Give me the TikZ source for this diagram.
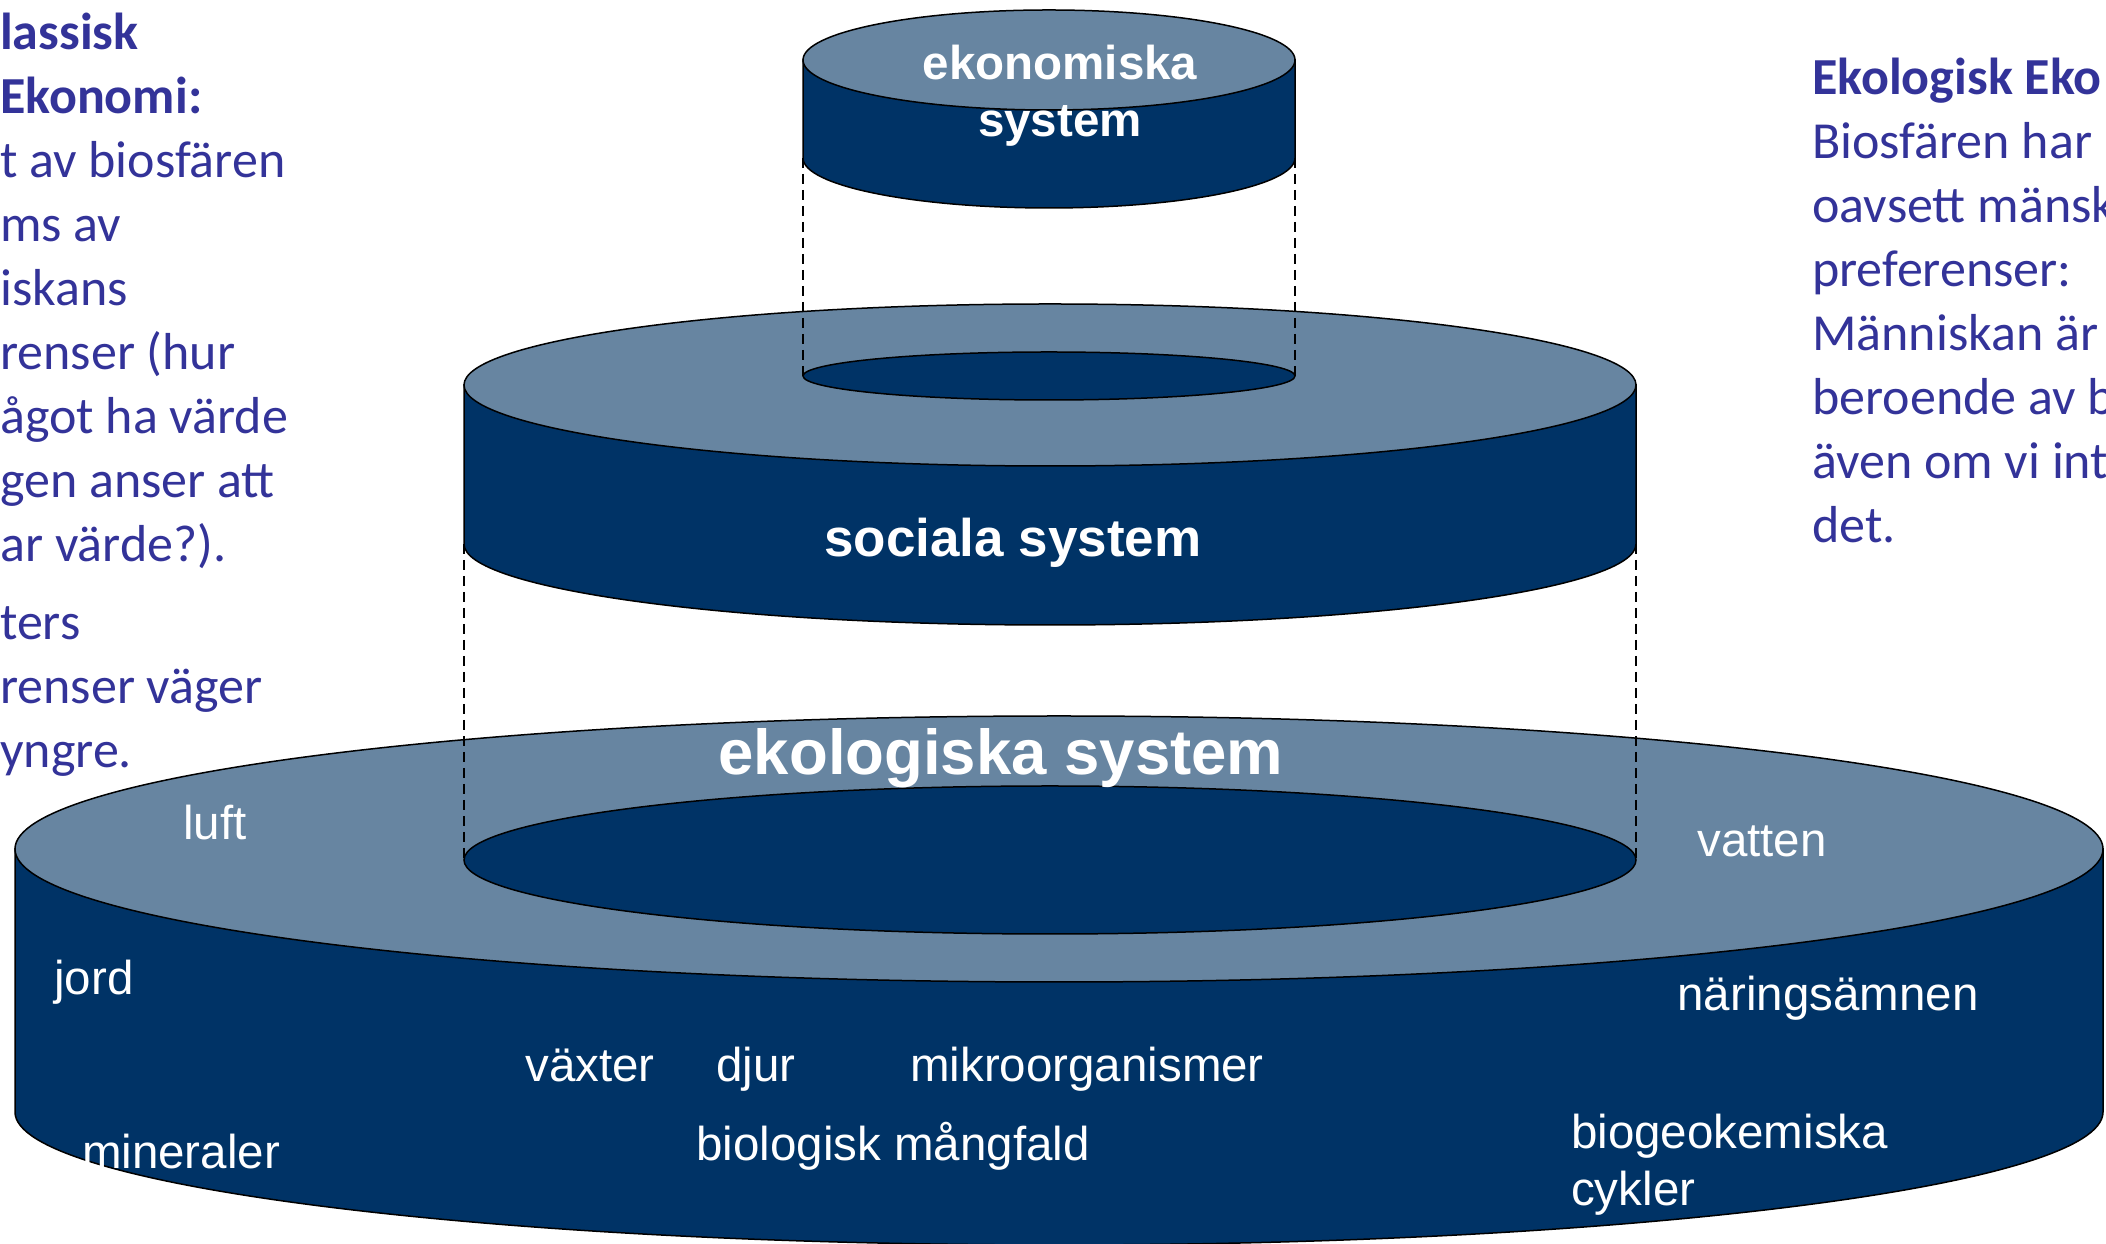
\documentclass[tikz,border=0pt]{standalone}
\usepackage{fontspec}
\setmainfont{Liberation Sans}
\newfontfamily\calibri{Carlito}
\definecolor{disklight}{HTML}{6785A1}
\definecolor{diskdark}{HTML}{003366}
\definecolor{noteblue}{HTML}{333399}
\tikzstyle{side}=[draw=black, line width=1.5pt, fill=diskdark]
\tikzstyle{rim}=[draw=black, line width=1.5pt, fill=disklight]
\tikzstyle{guide}=[draw=black, line width=2.5pt, dash pattern=on 10pt off 6pt]
\tikzstyle{lbl}=[inner sep=0pt, anchor=base, text=white, font=\fontsize{47.5}{57}\selectfont]
\tikzstyle{head}=[inner sep=0pt, text=white, font=\bfseries\fontsize{47.5}{57}\selectfont]
\tikzstyle{note}=[inner sep=0pt, anchor=north west, align=left, text=noteblue, font=\calibri\fontsize{52}{64}\selectfont]

\begin{document}
\begin{tikzpicture}[x=1pt, y=1pt]
\useasboundingbox (0,0) rectangle (2106,1244);

% ekologiska system
\draw [side] (15,395) -- (15,132) arc [start angle=180, end angle=360, x radius=1044, y radius=133] -- (2103,395) -- cycle;
\draw [rim] (1059,395) ellipse [x radius=1044, y radius=133];
\draw [side] (1050,384) ellipse [x radius=586, y radius=74];

% sociala system
\draw [side] (464,859) -- (464,700) arc [start angle=180, end angle=360, x radius=586, y radius=81] -- (1636,859) -- cycle;
\draw [rim] (1050,859) ellipse [x radius=586, y radius=81];
\draw [side] (1049,868) ellipse [x radius=246, y radius=24];

% ekonomiska system
\draw [side] (803,1184) -- (803,1086) arc [start angle=180, end angle=360, x radius=246, y radius=50] -- (1295,1184) -- cycle;
\draw [rim] (1049,1184) ellipse [x radius=246, y radius=50];

\coordinate (econL) at (803,1086);
\coordinate (econR) at (1295,1086);
\coordinate (socHoleL) at (803,868);
\coordinate (socHoleR) at (1295,868);
\coordinate (socL) at (464,700);
\coordinate (socR) at (1636,700);
\coordinate (ekoHoleL) at (464,384);
\coordinate (ekoHoleR) at (1636,384);

\draw [guide] (econL) -- (socHoleL);
\draw [guide] (econR) -- (socHoleR);
\draw [guide] (socL) -- (ekoHoleL);
\draw [guide] (socR) -- (ekoHoleR);

\node [head, align=center] (econ) at (1060,1148) {ekonomiska\\system};
\node [head, anchor=base, font=\bfseries\fontsize{53}{64}\selectfont] (social) at (1013,687) {sociala system};
\node [head, anchor=base, font=\bfseries\fontsize{63.5}{76}\selectfont] (eco) at (1001,469) {ekologiska system};

\node [lbl] (luft) at (215,404) {luft};
\node [lbl] (vatten) at (1762,387) {vatten};
\node [lbl] (jord) at (94,249) {jord};
\node [lbl] (naring) at (1828,233) {näringsämnen};
\node [lbl] (vaxter) at (590,162) {växter};
\node [lbl] (djur) at (756,162) {djur};
\node [lbl] (mikro) at (1087,162) {mikroorganismer};
\node [lbl] (mineral) at (181,75) {mineraler};
\node [lbl] (biodiv) at (893,83) {biologisk mångfald};
\node [lbl, anchor=base west, align=left] (cykler) at (1571,38) {biogeokemiska\\cykler};

\node [note] (classic) at (0,1231) {\textbf{lassisk}\\\textbf{Ekonomi:}\\t av biosfären\\ms av\\iskans\\renser (hur\\ågot ha värde\\gen anser att\\ar värde?).\\[14pt]ters\\renser väger\\yngre.};
\node [note] (ecolecon) at (1812,1186) {\textbf{Ekologisk Eko}\\Biosfären har\\oavsett mänsk\\preferenser:\\Människan är\\beroende av b\\även om vi int\\det.};

\end{tikzpicture}
\end{document}
